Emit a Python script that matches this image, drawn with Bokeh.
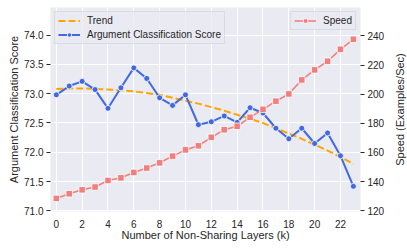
import math
from bokeh.plotting import figure
from bokeh.models import (Range1d, LinearAxis, FixedTicker, Legend, LegendItem,
                          NumeralTickFormatter, Label)
from bokeh.embed import file_html
from bokeh.resources import INLINE

layers = list(range(24))
arg_score = [72.98, 73.13, 73.21, 73.07, 72.75, 73.10, 73.44, 73.26, 72.93, 72.80,
             72.98, 72.47, 72.52, 72.62, 72.51, 72.76, 72.67, 72.41, 72.23, 72.41,
             72.15, 72.33, 71.94, 71.42]
trend = [73.08, 73.09, 73.09, 73.08, 73.07, 73.06, 73.04, 73.01, 72.98, 72.93,
         72.88, 72.83, 72.77, 72.71, 72.64, 72.57, 72.50, 72.41, 72.32, 72.23,
         72.13, 72.03, 71.92, 71.80]
speed = [128.5, 131.7, 134.4, 136.3, 140.8, 142.6, 146.3, 149.3, 152.9, 157.5,
         161.8, 164.6, 170.4, 175.6, 178.0, 184.1, 189.6, 195.2, 200.2, 209.8,
         216.7, 222.6, 230.8, 237.7]
x_ticks = [0, 2, 4, 6, 8, 10, 12, 14, 16, 18, 20, 22]
left_ticks = [71.0, 71.5, 72.0, 72.5, 73.0, 73.5, 74.0]
right_ticks = [120, 140, 160, 180, 200, 220, 240]

FONT = "Liberation Sans"
TXT = "#262626"

p = figure(frame_width=310, frame_height=204,
           x_range=Range1d(-0.45, 23.55), y_range=Range1d(70.99, 74.47),
           output_backend="svg", toolbar_location=None,
           min_border_left=50, min_border_right=47, min_border_top=7, min_border_bottom=0,
           background_fill_color="#EAEAF2", border_fill_color="white",
           outline_line_color=None)
p.extra_y_ranges = {"speed": Range1d(119.5, 259.5)}

def style_axis(ax, tick_out, standoff):
    ax.axis_line_color = None
    ax.major_tick_out = tick_out
    ax.major_tick_in = 0
    ax.major_tick_line_color = TXT
    ax.minor_tick_line_color = None
    ax.major_label_text_font = FONT
    ax.major_label_text_font_size = "10px"
    ax.major_label_text_color = TXT
    ax.major_label_standoff = standoff
    ax.axis_label_text_font = FONT
    ax.axis_label_text_font_size = "11px"
    ax.axis_label_text_font_style = "normal"
    ax.axis_label_text_color = TXT

xa = p.xaxis[0]
xa.ticker = FixedTicker(ticks=x_ticks)
xa.axis_label = "Number of Non-Sharing Layers (k)"
style_axis(xa, 0, 8)
xa.axis_label_standoff = -2

ya = p.yaxis[0]
ya.ticker = FixedTicker(ticks=left_ticks)
ya.formatter = NumeralTickFormatter(format="0.0")
ya.axis_label = "Argument Classification Score"
style_axis(ya, 4, 3)
ya.axis_label_standoff = 1

ra = LinearAxis(y_range_name="speed", ticker=FixedTicker(ticks=right_ticks))
style_axis(ra, 4, 3)
p.add_layout(ra, "right")

# right-hand axis title, reading bottom-to-top like the reference
right_title = Label(x=12, y=102, x_units="screen", y_units="screen",
                    text="Speed (Examples/Sec)", angle=math.pi / 2,
                    text_align="center", text_baseline="middle",
                    text_font=FONT, text_font_size="11px", text_color=TXT)
p.add_layout(right_title, "right")

p.xgrid.grid_line_color = "white"
p.ygrid.grid_line_color = "white"
p.xgrid.grid_line_width = 1
p.ygrid.grid_line_width = 1

r_trend = p.line(layers, trend, line_color="#FFA500", line_width=2, line_dash="7 3")
r_arg_l = p.line(layers, arg_score, line_color="#4169E1", line_width=2)
r_arg_m = p.scatter(layers, arg_score, marker="circle", size=6, fill_color="#4169E1",
                    line_color="white", line_width=0.8)
r_sp_l = p.line(layers, speed, line_color="#F08080", line_width=1.6, y_range_name="speed")
r_sp_m = p.scatter(layers, speed, marker="square", size=6.5, fill_color="#F08080",
                   line_color="white", line_width=0.8, y_range_name="speed")

def make_legend(items, loc):
    lg = Legend(items=items, location=loc, margin=4, padding=3, spacing=3,
                glyph_width=22, glyph_height=11, label_height=11, label_standoff=7,
                label_text_font=FONT, label_text_font_size="10px", label_text_color=TXT,
                background_fill_color="#EAEAF2", background_fill_alpha=0.8,
                border_line_color="#CCCCCC", border_line_width=1)
    return lg

leg1 = make_legend([LegendItem(label="Trend", renderers=[r_trend]),
                    LegendItem(label="Argument Classification Score", renderers=[r_arg_l, r_arg_m])],
                   "top_left")
leg2 = make_legend([LegendItem(label="Speed", renderers=[r_sp_l, r_sp_m])], "top_right")
p.add_layout(leg1)
p.add_layout(leg2)

open("out.html", "w").write(file_html(p, INLINE))
